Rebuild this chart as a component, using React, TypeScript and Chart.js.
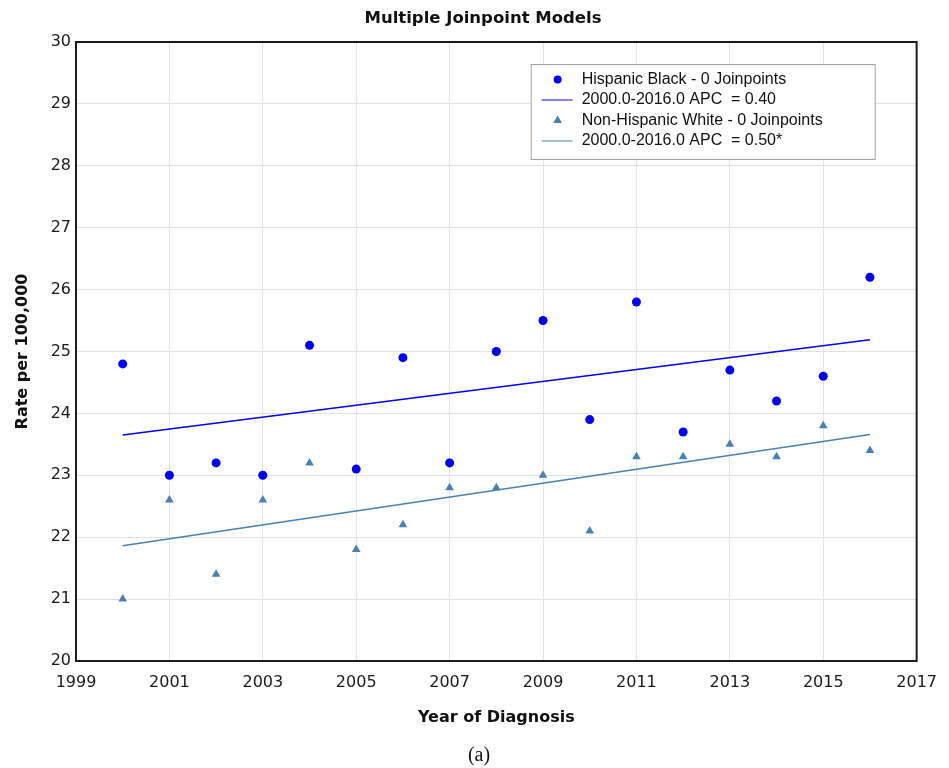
import React, { useEffect, useRef } from "react";
import { Chart, registerables } from "chart.js";

Chart.register(...registerables);

// Observed rates by year of diagnosis
const years = [2000, 2001, 2002, 2003, 2004, 2005, 2006, 2007, 2008, 2009, 2010, 2011, 2012, 2013, 2014, 2015, 2016];
const hispanicBlack = [24.8, 23.0, 23.2, 23.0, 25.1, 23.1, 24.9, 23.2, 25.0, 25.5, 23.9, 25.8, 23.7, 24.7, 24.2, 24.6, 26.2];
const nonHispanicWhite = [21.0, 22.6, 21.4, 22.6, 23.2, 21.8, 22.2, 22.8, 22.8, 23.0, 22.1, 23.3, 23.3, 23.5, 23.3, 23.8, 23.4];

// Fitted 0-joinpoint trend segments
const trendYears = [2000, 2016];
const hispanicBlackTrend = [23.65, 25.19];
const nonHispanicWhiteTrend = [21.86, 23.66];

const seriesLabels = [
  "Hispanic Black - 0 Joinpoints",
  "2000.0-2016.0 APC  = 0.40",
  "Non-Hispanic White - 0 Joinpoints",
  "2000.0-2016.0 APC  = 0.50*",
];

const chartTitle = "Multiple Joinpoint Models";
const xTitle = "Year of Diagnosis";
const yTitle = "Rate per 100,000";
const panelLabel = "(a)";

const xMin = 1999;
const xMax = 2017;
const xStep = 2;
const yMin = 20;
const yMax = 30;
const yStep = 1;

const BLUE = "#0000f2";
const STEEL = "#4682b4";

const W = 949;
const H = 768;

const toPoints = (xs: number[], ys: number[]) => xs.map((x, i) => ({ x, y: ys[i] }));

// Frame, title, inset legend and panel label
const decorPlugin = {
  id: "decor",
  afterDatasetsDraw(chart: any) {
    const { ctx, chartArea: a } = chart;
    ctx.save();

    // plot frame on all four sides
    ctx.strokeStyle = "#1c1c1c";
    ctx.lineWidth = 2;
    ctx.strokeRect(a.left, a.top, a.right - a.left, a.bottom - a.top);

    // title
    ctx.fillStyle = "#111";
    ctx.font = "bold 16.5px 'DejaVu Sans', Verdana, sans-serif";
    ctx.textAlign = "center";
    ctx.textBaseline = "middle";
    ctx.fillText(chartTitle, 483, 18.5);

    // legend box
    const bx = a.right - 386;
    const by = a.top + 22;
    const bw = 344;
    const bh = 95;
    ctx.fillStyle = "#ffffff";
    ctx.fillRect(bx, by, bw, bh);
    ctx.strokeStyle = "#a0a0a0";
    ctx.lineWidth = 1;
    ctx.strokeRect(bx + 0.5, by + 0.5, bw, bh);

    ctx.font = "16px 'Liberation Sans', Arial, sans-serif";
    ctx.textAlign = "left";
    ctx.textBaseline = "middle";
    chart.data.datasets.forEach((ds: any, i: number) => {
      const cy = by + 15.5 + i * 20.5;
      const sx = bx + 27;
      ctx.fillStyle = ds.borderColor;
      ctx.strokeStyle = ds.borderColor;
      if (ds.showLine) {
        ctx.lineWidth = 1;
        ctx.beginPath();
        ctx.moveTo(bx + 11, cy);
        ctx.lineTo(bx + 42, cy);
        ctx.stroke();
      } else if (ds.pointStyle === "triangle") {
        const r = 5;
        ctx.beginPath();
        ctx.moveTo(sx, cy - r);
        ctx.lineTo(sx + r * 0.866, cy + r * 0.5);
        ctx.lineTo(sx - r * 0.866, cy + r * 0.5);
        ctx.closePath();
        ctx.fill();
      } else {
        ctx.beginPath();
        ctx.arc(sx, cy, 4, 0, Math.PI * 2);
        ctx.fill();
      }
      ctx.fillStyle = "#111";
      ctx.fillText(ds.label, bx + 51, cy);
    });

    // panel label
    ctx.fillStyle = "#111";
    ctx.font = "20px 'Liberation Serif', serif";
    ctx.textAlign = "center";
    ctx.textBaseline = "middle";
    ctx.fillText(panelLabel, 479, 756);

    ctx.restore();
  },
};

export default function App() {
  const ref = useRef<HTMLCanvasElement | null>(null);

  useEffect(() => {
    if (!ref.current) return;
    const chart = new Chart(ref.current, {
      type: "scatter",
      data: {
        datasets: [
          {
            label: seriesLabels[0],
            data: toPoints(years, hispanicBlack),
            backgroundColor: BLUE,
            borderColor: BLUE,
            pointStyle: "circle",
            pointRadius: 4.5,
            pointBorderWidth: 0,
            showLine: false,
          },
          {
            label: seriesLabels[1],
            data: toPoints(trendYears, hispanicBlackTrend),
            borderColor: BLUE,
            backgroundColor: BLUE,
            borderWidth: 1.5,
            pointRadius: 0,
            showLine: true,
          },
          {
            label: seriesLabels[2],
            data: toPoints(years, nonHispanicWhite),
            backgroundColor: STEEL,
            borderColor: STEEL,
            pointStyle: "triangle",
            pointRadius: 5,
            pointBorderWidth: 0,
            showLine: false,
          },
          {
            label: seriesLabels[3],
            data: toPoints(trendYears, nonHispanicWhiteTrend),
            borderColor: STEEL,
            backgroundColor: STEEL,
            borderWidth: 1.5,
            pointRadius: 0,
            showLine: true,
          },
        ],
      },
      options: {
        animation: false,
        responsive: false,
        devicePixelRatio: 1,
        layout: { padding: { top: 42, right: 32, bottom: 41, left: 0 } },
        plugins: {
          legend: { display: false },
          title: { display: false },
          tooltip: { enabled: false },
        },
        scales: {
          x: {
            type: "linear",
            min: xMin,
            max: xMax,
            afterFit: (s: any) => {
              s.height = 66;
            },
            ticks: {
              stepSize: xStep,
              padding: 12,
              color: "#1a1a1a",
              font: { family: "'DejaVu Sans', Verdana, sans-serif", size: 16 },
              callback: (v: any) => String(v),
            },
            grid: { color: "#e2e2e2", lineWidth: 1, drawTicks: false },
            border: { display: false },
            title: {
              display: true,
              text: xTitle,
              color: "#111",
              font: { family: "'DejaVu Sans', Verdana, sans-serif", size: 16, weight: "bold" },
              padding: { top: 4, bottom: 0 },
            },
          },
          y: {
            type: "linear",
            min: yMin,
            max: yMax,
            afterFit: (s: any) => {
              s.width = 76;
            },
            ticks: {
              stepSize: yStep,
              padding: 5,
              color: "#1a1a1a",
              font: { family: "'DejaVu Sans', Verdana, sans-serif", size: 16 },
            },
            grid: { color: "#e2e2e2", lineWidth: 1, drawTicks: false },
            border: { display: false },
            title: {
              display: true,
              text: yTitle,
              color: "#111",
              font: { family: "'DejaVu Sans', Verdana, sans-serif", size: 16, weight: "bold" },
              padding: { top: 13, bottom: 0 },
            },
          },
        },
      },
      plugins: [decorPlugin],
    });
    return () => chart.destroy();
  }, []);

  return (
    <div style={{ position: "absolute", left: 0, top: 0, width: W, height: H, background: "#fff" }}>
      <canvas ref={ref} width={W} height={H} style={{ display: "block", width: W, height: H }} />
    </div>
  );
}
